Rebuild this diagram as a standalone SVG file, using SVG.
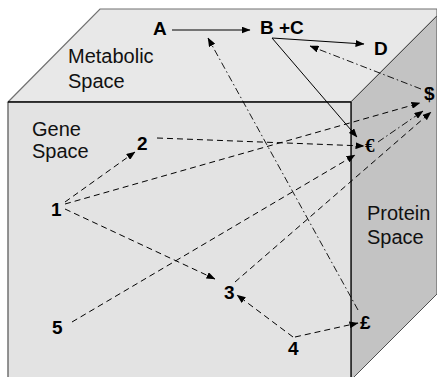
<svg xmlns="http://www.w3.org/2000/svg" width="437" height="377" viewBox="0 0 437 377">
<defs>
<marker id="ah" markerWidth="9" markerHeight="7" refX="8.5" refY="3.5" orient="auto" markerUnits="userSpaceOnUse">
<path d="M0,0 L9,3.5 L0,7 z" fill="#000"/>
</marker>
<style>
.lbl{font-family:"Liberation Sans",Arial,sans-serif;font-size:20px;fill:#111}
.n{font-family:"Liberation Sans",Arial,sans-serif;font-size:19px;font-weight:bold;fill:#000}
.solid{stroke:#000;stroke-width:1;fill:none;marker-end:url(#ah)}
.dash{stroke:#000;stroke-width:1;fill:none;stroke-dasharray:6 4;marker-end:url(#ah)}
.dd{stroke:#000;stroke-width:0.9;fill:none;stroke-dasharray:7 3 1.5 3;marker-end:url(#ah)}
</style>
</defs>
<rect width="437" height="377" fill="#fff"/>
<g id="cube">
<polygon points="8,102 100,9 437,9 437,16 351,102" fill="#e8e8e8" stroke="#707070" stroke-width="1.2"/>
<polygon points="351,102 437,16 437,294 351,380" fill="#c3c3c3" stroke="#505050" stroke-width="1"/>
<rect x="8" y="102" width="343" height="280" fill="#e3e3e3" stroke="none"/>
<line x1="8" y1="102" x2="8" y2="377" stroke="#707070" stroke-width="1.5"/>
<line x1="8" y1="102" x2="351" y2="102" stroke="#000" stroke-width="1.3"/>
<line x1="351" y1="102" x2="351" y2="377" stroke="#000" stroke-width="1.3"/>
</g>
<g id="space-labels">
<text class="lbl" x="68" y="63">Metabolic</text>
<text class="lbl" x="68" y="88">Space</text>
<text class="lbl" x="32" y="136">Gene</text>
<text class="lbl" x="32" y="158">Space</text>
<text class="lbl" x="367" y="220">Protein</text>
<text class="lbl" x="367" y="244">Space</text>
</g>
<g id="connectors">
<line class="solid" x1="172" y1="30" x2="250" y2="30"/>
<line class="solid" x1="272" y1="38" x2="364" y2="44"/>
<line class="solid" x1="272" y1="38" x2="357" y2="137"/>
<line class="dash" x1="65" y1="202" x2="135" y2="152"/>
<line class="dash" x1="65" y1="204" x2="420" y2="103"/>
<line class="dash" x1="65" y1="209" x2="215" y2="279"/>
<line class="dash" x1="157" y1="138" x2="364" y2="146"/>
<line class="dash" x1="72" y1="322" x2="355" y2="155"/>
<line class="dash" x1="235" y1="282" x2="431" y2="112"/>
<line class="dash" x1="293" y1="337" x2="237" y2="295"/>
<line class="dash" x1="295" y1="337" x2="358" y2="323"/>
<line class="dd" x1="358" y1="310" x2="208" y2="38"/>
<line class="dd" x1="421" y1="89" x2="310" y2="46"/>
<line class="dd" x1="378" y1="142" x2="423" y2="111"/>
</g>
<g id="node-A"><text class="n" x="153" y="35">A</text></g>
<g id="node-BC"><text class="n" x="260" y="34">B +C</text></g>
<g id="node-D"><text class="n" x="374" y="55">D</text></g>
<g id="node-dollar"><text class="n" x="424" y="100">$</text></g>
<g id="node-euro"><text x="365" y="152" style="font-family:'Liberation Serif','Times New Roman',serif;font-size:19px;font-weight:bold">€</text></g>
<g id="node-pound"><text class="n" x="360" y="329">£</text></g>
<g id="node-1"><text class="n" x="51" y="216">1</text></g>
<g id="node-2"><text class="n" x="137" y="150">2</text></g>
<g id="node-3"><text class="n" x="224" y="299">3</text></g>
<g id="node-4"><text class="n" x="288" y="355">4</text></g>
<g id="node-5"><text class="n" x="52" y="334">5</text></g>
</svg>
